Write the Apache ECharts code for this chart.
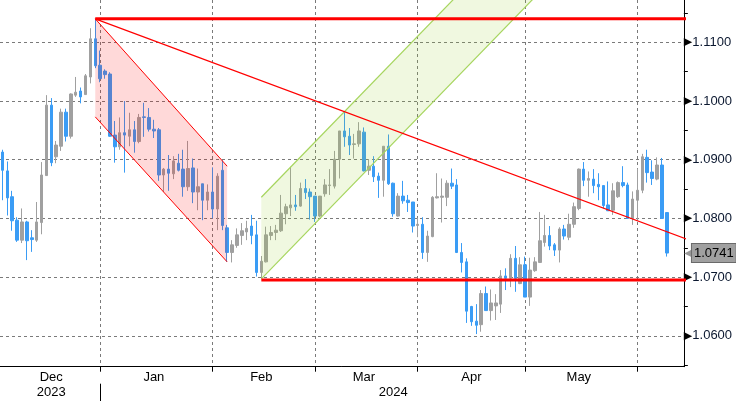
<!DOCTYPE html>
<html><head><meta charset="utf-8">
<script src="https://cdn.jsdelivr.net/npm/echarts@6/dist/echarts.min.js"></script>
<style>html,body{margin:0;padding:0;background:#fff;}#c{width:736px;height:401px;}</style>
</head><body><div id="c"></div>
<script>
// ---- categories: trading weekdays ----
const firstDay = '2023-12-01';
const lastDay = '2024-06-13';
function weekdays(a, b) {
  const out = []; const d = new Date(a + 'T00:00:00Z'); const end = new Date(b + 'T00:00:00Z');
  while (d <= end) { const w = d.getUTCDay(); if (w !== 0 && w !== 6) out.push(d.toISOString().slice(0, 10)); d.setUTCDate(d.getUTCDate() + 1); }
  return out;
}
const dates = weekdays(firstDay, lastDay);

// ---- daily candles from 2023-12-01: [open, close, low, high] ----
const ohlc = [
[1.0913,1.0882,1.0831,1.0917],[1.0881,1.0835,1.0805,1.0897],[1.0837,1.0796,1.0779,1.0847],[1.0797,1.0763,1.0760,1.0802],
[1.0763,1.0794,1.0758,1.0817],[1.0794,1.0762,1.0729,1.0796],[1.0767,1.0764,1.0743,1.0780],[1.0763,1.0794,1.0760,1.0828],
[1.0793,1.0874,1.0773,1.0896],[1.0873,1.0993,1.0873,1.1010],[1.0993,1.0895,1.0889,1.1005],[1.0905,1.0925,1.0894,1.0932],
[1.0923,1.0981,1.0915,1.0987],[1.0981,1.0940,1.0931,1.0987],[1.0940,1.1012,1.0936,1.1013],[1.1010,1.1015,1.1007,1.1041],
[1.1017,1.1007,1.0996,1.1023],[1.1011,1.1043,1.1011,1.1046],[1.1041,1.1106,1.1030,1.1124],[1.1106,1.1060,1.1056,1.1140],
[1.1061,1.1038,1.1032,1.1086],[1.1051,1.1045,1.1038,1.1054],[1.1046,1.0940,1.0939,1.1049],[1.0942,1.0922,1.0895,1.0966],
[1.0922,1.0946,1.0917,1.0972],[1.0946,1.0942,1.0878,1.1000],[1.0940,1.0951,1.0923,1.0980],[1.0951,1.0931,1.0912,1.0966],
[1.0931,1.0972,1.0928,1.0978],[1.0973,1.0972,1.0939,1.0997],[1.0972,1.0952,1.0948,1.0988],[1.0952,1.0949,1.0937,1.0968],
[1.0951,1.0874,1.0864,1.0954],[1.0874,1.0884,1.0845,1.0886],[1.0884,1.0877,1.0847,1.0908],[1.0876,1.0898,1.0867,1.0906],
[1.0894,1.0882,1.0880,1.0910],[1.0884,1.0854,1.0837,1.0917],[1.0854,1.0885,1.0847,1.0932],[1.0886,1.0845,1.0826,1.0902],
[1.0845,1.0854,1.0814,1.0885],[1.0859,1.0831,1.0797,1.0859],[1.0831,1.0845,1.0814,1.0858],[1.0845,1.0816,1.0800,1.0887],
[1.0816,1.0872,1.0780,1.0877],[1.0882,1.0788,1.0780,1.0899],[1.0784,1.0742,1.0726,1.0789],[1.0742,1.0755,1.0725,1.0763],
[1.0754,1.0772,1.0750,1.0783],[1.0771,1.0779,1.0755,1.0792],[1.0777,1.0783,1.0763,1.0796],[1.0787,1.0771,1.0756,1.0806],
[1.0772,1.0708,1.0701,1.0796],[1.0708,1.0727,1.0698,1.0736],[1.0726,1.0772,1.0725,1.0786],[1.0771,1.0776,1.0763,1.0787],
[1.0776,1.0780,1.0763,1.0789],[1.0779,1.0809,1.0777,1.0840],[1.0808,1.0820,1.0790,1.0825],[1.0818,1.0823,1.0804,1.0888],
[1.0823,1.0820,1.0813,1.0840],[1.0821,1.0851,1.0820,1.0861],[1.0851,1.0844,1.0833,1.0867],[1.0845,1.0837,1.0798,1.0851],
[1.0838,1.0804,1.0794,1.0838],[1.0804,1.0838,1.0802,1.0838],[1.0842,1.0857,1.0837,1.0867],[1.0856,1.0857,1.0840,1.0884],
[1.0855,1.0901,1.0851,1.0915],[1.0901,1.0949,1.0868,1.0949],[1.0949,1.0939,1.0922,1.0982],[1.0940,1.0925,1.0908,1.0954],
[1.0926,1.0927,1.0902,1.0944],[1.0927,1.0949,1.0922,1.0964],[1.0947,1.0881,1.0880,1.0955],[1.0882,1.0889,1.0874,1.0901],
[1.0889,1.0871,1.0862,1.0906],[1.0872,1.0865,1.0835,1.0878],[1.0865,1.0923,1.0837,1.0923],[1.0923,1.0859,1.0857,1.0943],
[1.0860,1.0808,1.0803,1.0861],[1.0804,1.0838,1.0803,1.0843],[1.0838,1.0830,1.0825,1.0864],[1.0831,1.0827,1.0811,1.0840],
[1.0828,1.0787,1.0776,1.0828],[1.0788,1.0790,1.0768,1.0801],[1.0790,1.0742,1.0731,1.0802],[1.0742,1.0770,1.0726,1.0779],
[1.0769,1.0836,1.0768,1.0838],[1.0835,1.0837,1.0834,1.0877],[1.0836,1.0838,1.0793,1.0868],[1.0836,1.0860,1.0821,1.0865],
[1.0860,1.0855,1.0850,1.0885],[1.0857,1.0742,1.0741,1.0867],[1.0742,1.0725,1.0708,1.0758],[1.0726,1.0642,1.0622,1.0732],
[1.0650,1.0624,1.0617,1.0651],[1.0625,1.0618,1.0603,1.0654],[1.0619,1.0672,1.0607,1.0678],[1.0672,1.0643,1.0643,1.0684],
[1.0643,1.0656,1.0626,1.0679],[1.0651,1.0656,1.0627,1.0671],[1.0654,1.0702,1.0639,1.0712],[1.0702,1.0698,1.0678,1.0715],
[1.0698,1.0732,1.0683,1.0739],[1.0732,1.0698,1.0675,1.0753],[1.0689,1.0721,1.0688,1.0734],[1.0721,1.0666,1.0666,1.0735],
[1.0666,1.0712,1.0651,1.0733],[1.0711,1.0726,1.0709,1.0734],[1.0725,1.0762,1.0724,1.0811],[1.0759,1.0771,1.0752,1.0806],
[1.0771,1.0753,1.0746,1.0787],[1.0755,1.0746,1.0736,1.0758],[1.0746,1.0782,1.0725,1.0785],[1.0782,1.0770,1.0764,1.0789],
[1.0768,1.0790,1.0763,1.0808],[1.0790,1.0820,1.0784,1.0827],[1.0817,1.0884,1.0814,1.0885],[1.0884,1.0865,1.0855,1.0896],
[1.0865,1.0868,1.0837,1.0880],[1.0867,1.0856,1.0843,1.0884],[1.0858,1.0854,1.0831,1.0877],[1.0856,1.0822,1.0817,1.0856],
[1.0823,1.0813,1.0813,1.0863],[1.0814,1.0847,1.0806,1.0860],[1.0837,1.0861,1.0835,1.0863],[1.0861,1.0856,1.0853,1.0889],
[1.0857,1.0800,1.0800,1.0861],[1.0800,1.0833,1.0789,1.0846],[1.0831,1.0848,1.0797,1.0885],[1.0848,1.0905,1.0843,1.0910],
[1.0904,1.0878,1.0861,1.0917],[1.0879,1.0868,1.0857,1.0899],[1.0867,1.0891,1.0865,1.0904],[1.0891,1.0800,1.0800,1.0903],
[1.0810,1.0741,1.0735,1.0810]
];

// ---- axis labels / ticks ----
const monthEnds = ['2023-12-29','2024-01-31','2024-02-29','2024-03-29','2024-04-30','2024-05-31'];
const monthLabels = [['2023-12-15','Dec'],['2024-01-15','Jan'],['2024-02-14','Feb'],['2024-03-14','Mar'],['2024-04-15','Apr'],['2024-05-15','May']];
const yearLabels = [['2023-12-15','2023'],['2024-03-22','2024']];
const yearBreak = '2023-12-29';
const yMin = 1.05474, yMax = 1.11721;
const minorTicks = [1.055, 1.065, 1.075, 1.085, 1.095, 1.105, 1.115];

// ---- drawn studies: [date, value] ----
const resistance = [['2023-12-28', 1.1140], ['END', 1.1140]];
const support = [['2024-02-14', 1.0695], ['END', 1.0695]];
const trendLine = [['2023-12-28', 1.1140], ['END', 1.0765]];
const redUpper = [['2023-12-28', 1.1140], ['2024-02-05', 1.0889]];
const redLower = [['2023-12-28', 1.0973], ['2024-02-05', 1.0726]];
const greenUpper = [['2024-02-14', 1.0836], ['2024-05-02', 1.1316]];
const greenLower = [['2024-02-14', 1.0697], ['2024-05-02', 1.1177]];

const idx = d => d === 'END' ? dates.length : dates.indexOf(d);
const toXY = pts => pts.map(p => [idx(p[0]), p[1]]);
const monthEndIdx = new Set(monthEnds.map(idx));
const monthLabelMap = Object.fromEntries(monthLabels);
const yearLabelMap = Object.fromEntries(yearLabels);
const yearBreakIdx = idx(yearBreak);

const GREY = '#a0a0a0', BLUE = '#3a9cf5', FONT = 'Liberation Sans';
const gridStyle = { color: '#7a7a7a', width: 1, type: [3, 3] };

function poly(upper, lower, fill) {
  const pts = toXY(upper).concat(toXY(lower).reverse());
  return {
    type: 'custom', silent: true, z: 3, data: [[pts[0][0], pts[0][1]]],
    renderItem: function (params, api) {
      return { type: 'polygon', shape: { points: pts.map(p => api.coord(p)) }, style: { fill: fill } };
    }
  };
}
function seg(pts, color, width) {
  return { type: 'line', data: toXY(pts), symbol: 'none', silent: true, z: 4, clip: true,
    lineStyle: { color: color, width: width }, emphasis: { disabled: true } };
}

const lastIdx = ohlc.length - 1;
const lastClose = ohlc[lastIdx][1];
const chart = echarts.init(document.getElementById('c'), null, { renderer: 'canvas', width: 736, height: 401 });
chart.setOption({
  animation: false,
  backgroundColor: '#ffffff',
  grid: { left: -2.15, right: 52.15, top: 0, bottom: 34.3, containLabel: false },
  xAxis: [{
    type: 'category', data: dates, boundaryGap: true, position: 'bottom',
    axisLine: { show: true, lineStyle: { color: '#000', width: 1 } },
    axisTick: { show: true, alignWithLabel: true, length: 5, interval: i => monthEndIdx.has(i), lineStyle: { color: '#000' } },
    axisLabel: { show: true, interval: (i, v) => monthLabelMap[v] !== undefined, formatter: v => monthLabelMap[v] || '',
      margin: 4, color: '#000', fontFamily: FONT, fontSize: 13 },
    splitLine: { show: true, alignWithLabel: true, interval: i => monthEndIdx.has(i), lineStyle: gridStyle }
  }, {
    type: 'category', data: dates, boundaryGap: true, position: 'bottom', offset: 17,
    axisLine: { show: false },
    axisTick: { show: true, alignWithLabel: true, length: 18, interval: i => i === yearBreakIdx, lineStyle: { color: '#000' } },
    axisLabel: { show: true, interval: (i, v) => yearLabelMap[v] !== undefined, formatter: v => yearLabelMap[v] || '',
      margin: 2, color: '#000', fontFamily: FONT, fontSize: 13 },
    splitLine: { show: false }
  }],
  yAxis: [{
    type: 'value', position: 'right', min: yMin, max: yMax,
    axisLine: { show: true, onZero: false, lineStyle: { color: '#000', width: 1 } },
    axisTick: { show: false },
    axisLabel: { show: true, showMinLabel: false, showMaxLabel: false, margin: 0,
      formatter: v => '{t|▶}{n|' + v.toFixed(4) + '}',
      rich: {
        t: { fontFamily: 'DejaVu Sans', fontSize: 11, color: '#000', padding: [0, 0, 0, 0], verticalAlign: 'middle' },
        n: { fontFamily: FONT, fontSize: 13, color: '#0b1830', verticalAlign: 'middle' }
      } },
    splitLine: { show: true, showMinLine: false, showMaxLine: false, lineStyle: gridStyle }
  }, {
    type: 'value', position: 'right', min: yMin, max: yMax,
    axisLine: { show: false }, axisLabel: { show: false }, splitLine: { show: false },
    axisTick: { show: true, length: 4, customValues: minorTicks, lineStyle: { color: '#000' } }
  }],
  series: [
    {
      type: 'candlestick', data: ohlc, barWidth: 3, z: 2,
      itemStyle: { color: GREY, color0: BLUE, borderColor: GREY, borderColor0: BLUE, borderWidth: 1 }
    },
    poly(redUpper, redLower, 'rgba(255,0,0,0.15)'),
    poly(greenUpper, greenLower, 'rgba(154,205,50,0.15)'),
    seg(redUpper, '#ff0000', 1),
    seg(redLower, '#ff0000', 1),
    seg(greenUpper, '#a6d55e', 1.2),
    seg(greenLower, '#a6d55e', 1.2),
    seg(trendLine, '#ff0000', 1.2),
    seg(resistance, '#ff0000', 3),
    seg(support, '#ff0000', 3),
    {
      type: 'line', data: [[lastIdx, lastClose]], symbol: 'none', silent: true, z: 6,
      lineStyle: { width: 0 },
      markPoint: {
        silent: true, animation: false, symbol: 'rect', symbolSize: 1,
        itemStyle: { color: 'rgba(0,0,0,0)' },
        data: [{ coord: [lastIdx, lastClose] }],
        label: { show: true, position: 'right', distance: 17,
          formatter: '{a|◀}{b|' + lastClose.toFixed(4) + '}',
          rich: {
            a: { fontFamily: 'DejaVu Sans', fontSize: 10, color: '#9a9a9a', verticalAlign: 'middle' },
            b: { fontFamily: FONT, fontSize: 13, color: '#000', backgroundColor: '#a0a0a0', borderColor: '#6a6a6a',
                 borderWidth: 1, padding: [3, 2, 2, 2], verticalAlign: 'middle' }
          } }
      }
    }
  ]
});
</script>
</body></html>
